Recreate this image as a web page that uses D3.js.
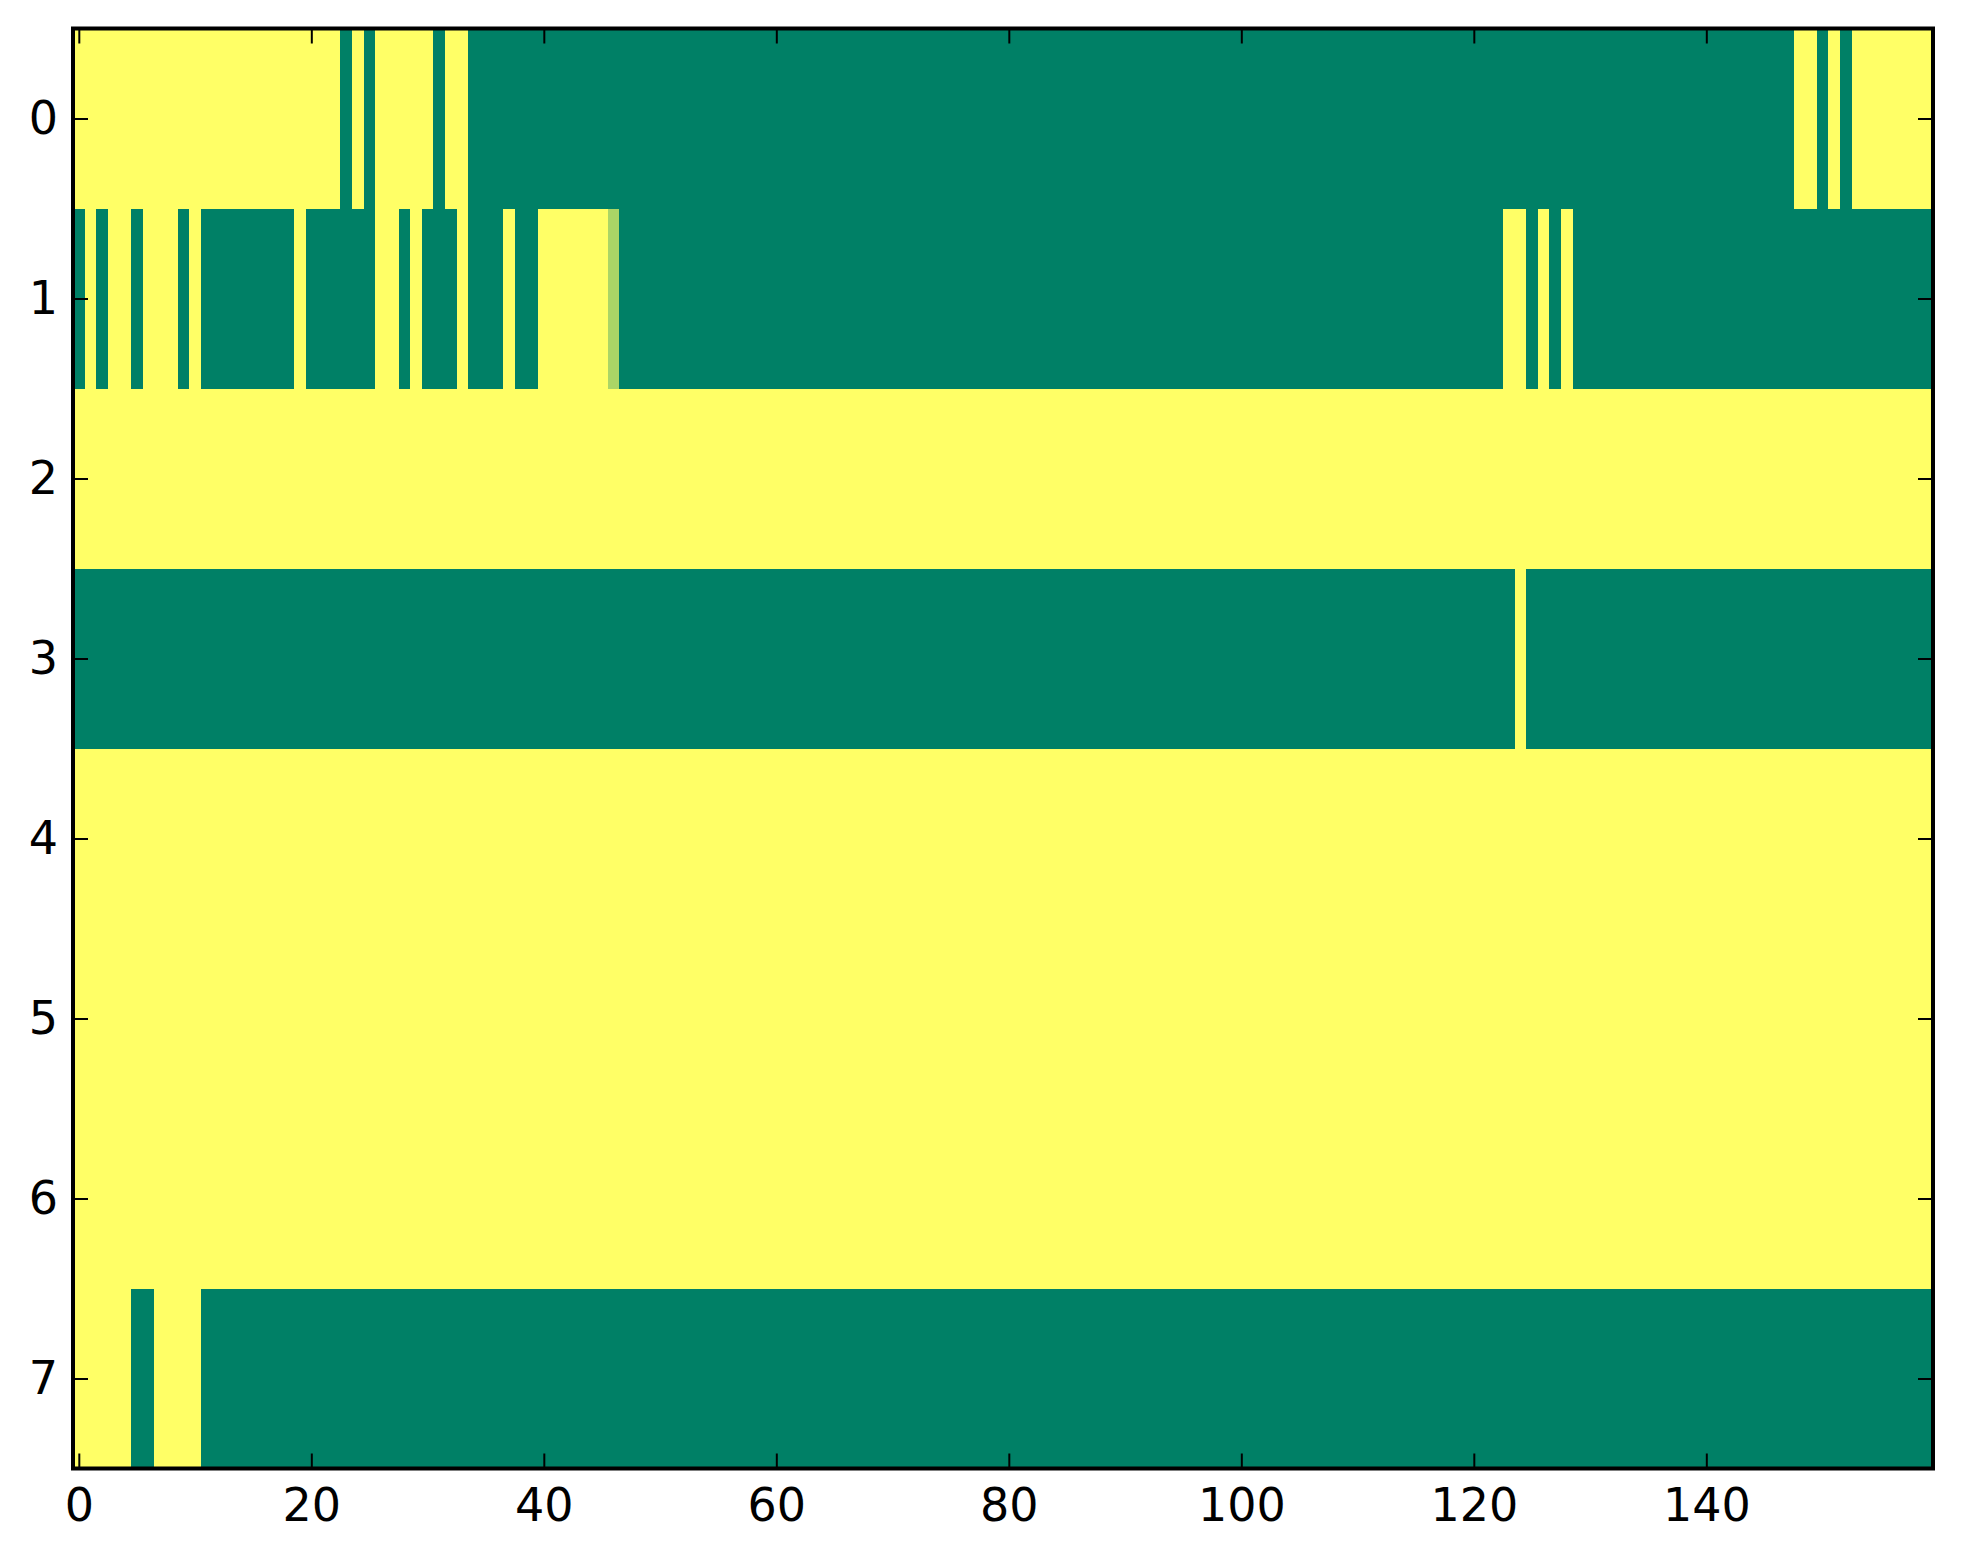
<!DOCTYPE html>
<html>
<head>
<meta charset="utf-8">
<script src="https://cdn.jsdelivr.net/npm/d3@7.9.0/dist/d3.min.js"></script>
<style>
  html, body { margin: 0; padding: 0; background: #fff; }
  svg text { font-family: "DejaVu Sans", sans-serif; }
</style>
</head>
<body>
<div id="chart"></div>
<script>
// each row as runs of [value, count], read left to right (160 columns)
const row0 = [[1,23],[0,1],[1,1],[0,1],[1,5],[0,1],[1,2],[0,114],[1,2],[0,1],[1,1],[0,1],[1,7]];
const row1 = [[0,1],[1,1],[0,1],[1,2],[0,1],[1,3],[0,1],[1,1],[0,8],[1,1],[0,6],[1,2],[0,1],[1,1],
              [0,3],[1,1],[0,3],[1,1],[0,2],[1,6],[0.67,1],[0,76],[1,2],[0,1],[1,1],[0,1],[1,1],[0,31]];
const row2 = [[1,160]];
const row3 = [[0,124],[1,1],[0,35]];
const row4 = [[1,160]];
const row5 = [[1,160]];
const row6 = [[1,160]];
const row7 = [[1,5],[0,2],[1,4],[0,149]];

const rowRuns = [row0, row1, row2, row3, row4, row5, row6, row7];
const xTicks = [0, 20, 40, 60, 80, 100, 120, 140];
const yTicks = [0, 1, 2, 3, 4, 5, 6, 7];

// expand runs into cells
const cells = [];
rowRuns.forEach((runs, r) => {
  let c = 0;
  runs.forEach(([v, n]) => {
    for (let i = 0; i < n; i++) cells.push({row: r, col: c++, value: v});
  });
});
const nCols = 160, nRows = rowRuns.length;

const width = 1963, height = 1564;
const margin = {top: 28.5, right: 30, bottom: 95.5, left: 73};

const svg = d3.select('#chart')
  .append('svg')
  .attr('width', width)
  .attr('height', height);

const x = d3.scaleLinear()
  .domain([-0.5, nCols - 0.5])
  .range([margin.left, width - margin.right]);
const y = d3.scaleLinear()
  .domain([-0.5, nRows - 0.5])
  .range([margin.top, height - margin.bottom]);

// matplotlib "summer" colormap
const color = d3.scaleLinear()
  .domain([0, 1])
  .range(['#008066', '#ffff66']);

svg.append('g')
  .attr('class', 'cells')
  .attr('shape-rendering', 'crispEdges')
  .selectAll('rect')
  .data(cells)
  .join('rect')
    .attr('x', d => x(d.col - 0.5))
    .attr('y', d => y(d.row - 0.5))
    .attr('width', d => x(d.col + 0.5) - x(d.col - 0.5) + 0.5)
    .attr('height', d => y(d.row + 0.5) - y(d.row - 0.5) + 0.5)
    .attr('fill', d => color(d.value));

// axes, ticks pointing inward
const tickLen = 15;
function styleAxis(g) {
  g.select('.domain').remove();
  g.selectAll('line').attr('stroke', '#000').attr('stroke-width', 2);
  g.selectAll('text').attr('font-size', 46).attr('fill', '#000');
}

svg.append('g')
  .attr('transform', `translate(0,${height - margin.bottom})`)
  .call(d3.axisBottom(x).tickValues(xTicks).tickSizeInner(-tickLen).tickSizeOuter(0).tickPadding(20))
  .call(styleAxis);
svg.append('g')
  .attr('transform', `translate(0,${margin.top})`)
  .call(d3.axisTop(x).tickValues(xTicks).tickSizeInner(-tickLen).tickSizeOuter(0).tickFormat(''))
  .call(styleAxis);
svg.append('g')
  .attr('transform', `translate(${margin.left},0)`)
  .call(d3.axisLeft(y).tickValues(yTicks).tickSizeInner(-tickLen).tickSizeOuter(0).tickPadding(15))
  .call(styleAxis);
svg.append('g')
  .attr('transform', `translate(${width - margin.right},0)`)
  .call(d3.axisRight(y).tickValues(yTicks).tickSizeInner(-tickLen).tickSizeOuter(0).tickFormat(''))
  .call(styleAxis);

// frame
svg.append('rect')
  .attr('x', margin.left)
  .attr('y', margin.top)
  .attr('width', width - margin.left - margin.right)
  .attr('height', height - margin.top - margin.bottom)
  .attr('fill', 'none')
  .attr('stroke', '#000')
  .attr('stroke-width', 4);
</script>
</body>
</html>
